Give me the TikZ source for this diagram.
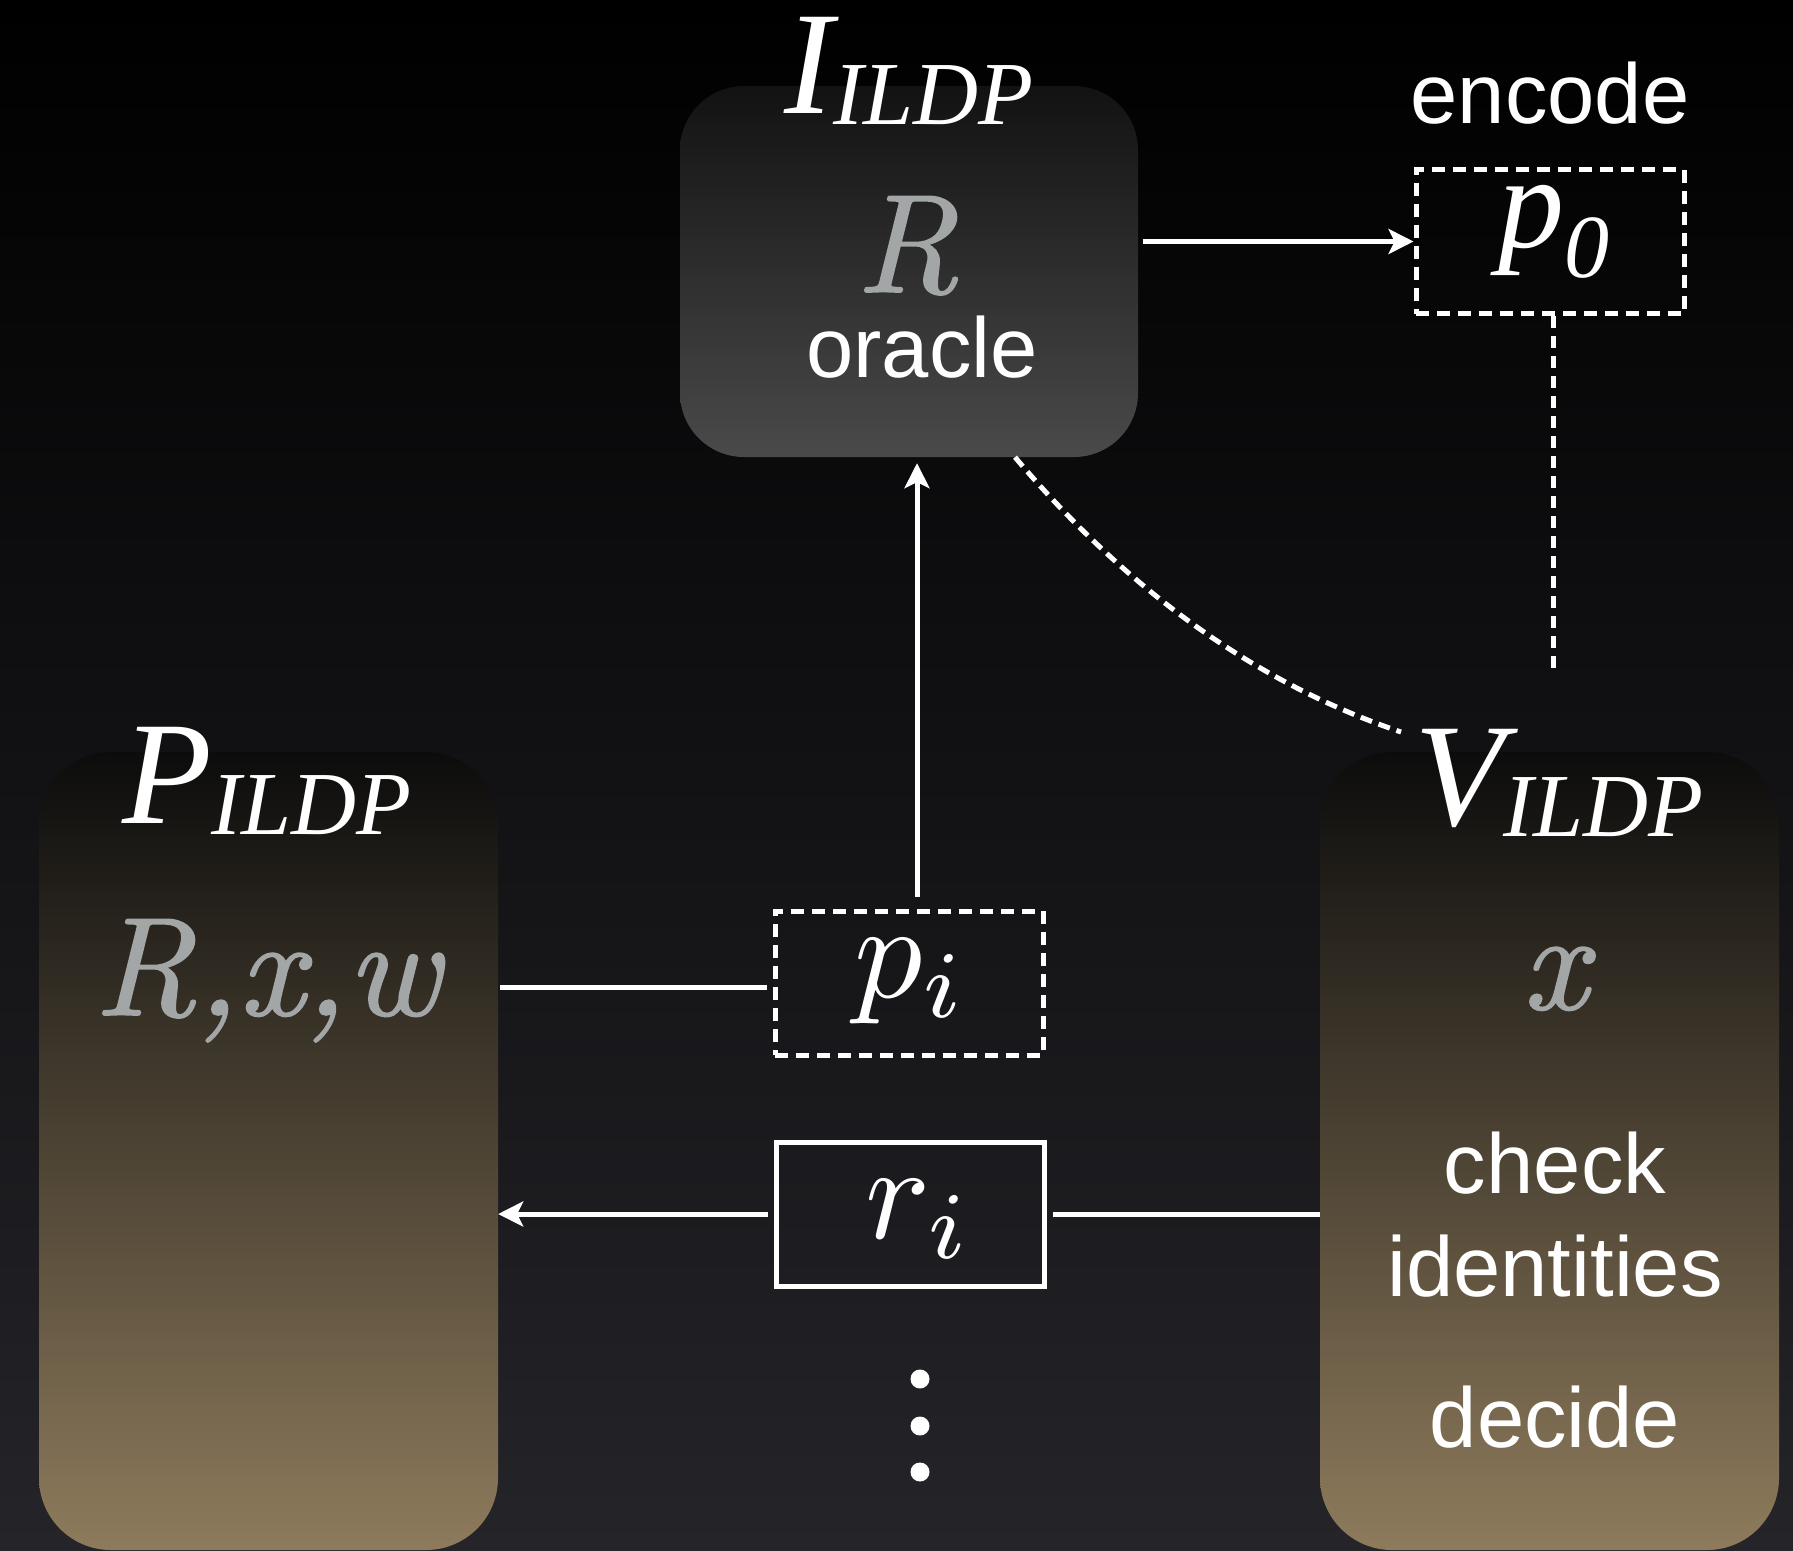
\documentclass[tikz,border=0pt]{standalone}
\usepackage{graphicx}
\usepackage{fontspec}
\setmainfont{Liberation Sans}
\newfontfamily\serifrm{Liberation Serif}
\newfontfamily\inpfont{lmroman10-italic.otf}[FakeBold=1.2]
\usetikzlibrary{arrows.meta,calc}

\definecolor{bgbot}{RGB}{36,36,41}
\definecolor{browntop}{RGB}{12,12,12}
\definecolor{brownbot}{RGB}{142,123,92}
\definecolor{oratop}{RGB}{18,18,18}
\definecolor{orabot}{RGB}{74,74,74}
\definecolor{mathgrey}{RGB}{162,166,166}

% party names: big italic letter with a lowered italic subscript
\newcommand\ttlmain[1]{{\serifrm\itshape\fontsize{147}{150}\selectfont #1}}
\newcommand\ttlsub[1]{\raisebox{-11pt}{\serifrm\itshape\fontsize{90}{92}\selectfont #1}}
% inputs held by each party, in a slightly heavier Latin Modern italic
\newcommand\inp[1]{{\inpfont\fontsize{140}{145}\selectfont #1}}
\newcommand\lbl{\fontsize{85}{102}\selectfont}
% message symbols: 10pt math blown up
\newcommand\bigmath[1]{\scalebox{13.6}{$#1$}}

\tikzset{
  actor/.style={rectangle, rounded corners=72pt, inner sep=0pt, draw=none,
    top color=browntop, bottom color=brownbot,
    minimum width=459pt, minimum height=798pt},
  oraclebox/.style={rectangle, rounded corners=64pt, inner sep=0pt, draw=none,
    top color=oratop, bottom color=orabot,
    minimum width=458pt, minimum height=371pt},
  msgbox/.style={rectangle, draw=white, line width=5pt, inner sep=0pt,
    minimum width=268pt, minimum height=144pt},
  dashedbox/.style={msgbox, dash pattern=on 13pt off 8pt},
  wire/.style={draw=white, line width=5pt},
  arr/.style={wire, -{Stealth[length=25pt, width=25pt, inset=6pt]}},
  dashwire/.style={wire, dash pattern=on 12pt off 8pt},
  txt/.style={text=white, inner sep=0pt, anchor=base},
  input/.style={txt, text=mathgrey},
  dot/.style={circle, fill=white, draw=none, inner sep=0pt, minimum size=19pt},
}

\begin{document}
\begin{tikzpicture}[x=1pt, y=-1pt]
\useasboundingbox (0,0) rectangle (1793,1550);
\shade[top color=black, bottom color=bgbot] (0,0) rectangle (1793,1550);

% parties
\node[oraclebox] (oracle) at (909,271.5) {};
\node[actor] (P) at (268.5,1151) {};
\node[actor] (V) at (1549.5,1151) {};

% messages
\node[dashedbox] (p0) at (1550,241.5) {};
\node[dashedbox] (pi) at (909,983) {};
\node[msgbox] (ri) at (910,1214) {};

% titles
\node[txt] (Ititle) at (909,113) {\ttlmain{I}\ttlsub{ILDP}};
\node[txt] (Ptitle) at (267,823) {\ttlmain{P}\ttlsub{ILDP}};
\node[txt] (Vtitle) at (1559,825) {\ttlmain{V}\ttlsub{ILDP}};

% contents
\node[input] (Rlbl) at (907,292) {\inp{R}};
\node[txt] (oraclelbl) at (922,377) {\lbl oracle};
\node[txt] (encodelbl) at (1550,123) {\lbl encode};
\node[input] (Rxw) at (267,1015) {\inp{R,x,w}};
\node[input] (xlbl) at (1555,1009) {\inp{x}};
\node[txt] (checklbl) at (1555,1193) {\lbl check};
\node[txt] (identlbl) at (1555,1296) {\lbl identities};
\node[txt] (decidelbl) at (1555,1447) {\lbl decide};

\node[txt] (p0lbl) at (1554,247)
  {{\serifrm\itshape\fontsize{132}{135}\selectfont p}\raisebox{-30pt}{\serifrm\itshape\fontsize{90}{92}\selectfont 0}};
\node[txt] (pilbl) at (911,997) {\bigmath{p_i}};
\node[txt] (rilbl) at (919,1238) {\bigmath{r_i}};

% more rounds
\node[dot] (d1) at (920,1379) {};
\node[dot] (d2) at (920,1426) {};
\node[dot] (d3) at (920,1472) {};

% connectors
\coordinate (p0end) at (1553,671);
\coordinate (vlink) at (1401,732);

\draw[arr] ($(oracle.east |- p0.west)+(5,0)$) -- (p0.west);
\draw[dashwire] ($(p0.south)+(3,0)$) -- (p0end);
\draw[dashwire, dash pattern=on 12pt off 7pt] ($(oracle.south)+(106,0)$)
  .. controls (1129,592) and (1258,684) .. (vlink);
\draw[arr] ($(pi.north)+(8,-12)$) -- ($(oracle.south)+(8,6)$);
\draw[wire] ($(P.east |- pi.west)+(2,4)$) -- ($(pi.west)+(-6,4)$);
\draw[wire] (V.west |- ri.east) -- ($(ri.east)+(6,0)$);
\draw[arr] ($(ri.west)+(-6,0)$) -- (P.east |- ri.west);
\end{tikzpicture}
\end{document}
